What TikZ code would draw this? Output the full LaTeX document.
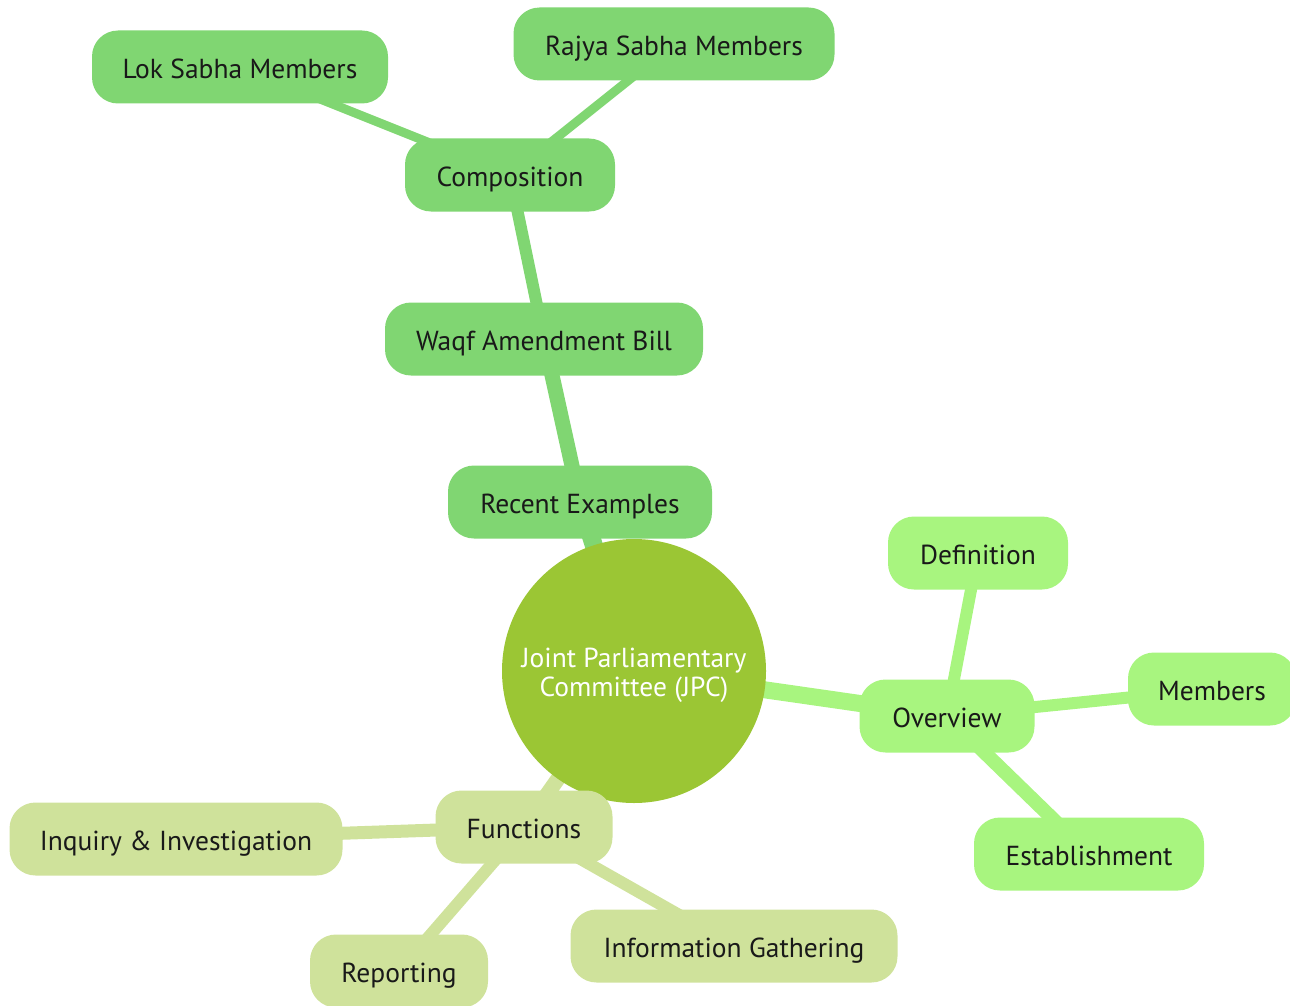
\documentclass[tikz,border=0pt]{standalone}
\usepackage{fontspec}
\setmainfont{PT Sans}
\definecolor{cRoot}{HTML}{9BC634}
\definecolor{cTop}{HTML}{80D672}
\definecolor{cRight}{HTML}{A8F57F}
\definecolor{cLeft}{HTML}{CFE29B}
\tikzset{
  box/.style={rounded corners=26pt, minimum height=73pt, inner sep=0pt, text height=23pt, text depth=0pt, font=\fontsize{27.5}{30}\selectfont, text=black!90},
  topbox/.style={box, fill=cTop},
  rightbox/.style={box, fill=cRight},
  leftbox/.style={box, fill=cLeft},
  link/.style={line cap=round},
}
\begin{document}
\begin{tikzpicture}[x=1pt,y=-1pt]
\useasboundingbox (0,0) rectangle (1290,1006);
% coordinates for nodes
\coordinate (pR) at (634,671);
\coordinate (pRec) at (580,502);
\coordinate (pW) at (544,339);
\coordinate (pC) at (510,175);
\coordinate (pL) at (240,67);
\coordinate (pRS) at (674,44);
\coordinate (pO) at (947,716);
\coordinate (pD) at (978,553);
\coordinate (pM) at (1212,689);
\coordinate (pE) at (1089,854);
\coordinate (pF) at (524,827);
\coordinate (pI) at (176,839);
\coordinate (pRep) at (399,971);
\coordinate (pIG) at (734,946);
% connectors
\draw[link, cTop, line width=18pt] (pR) -- (pRec);
\draw[link, cTop, line width=15pt] (pRec) -- (pW);
\draw[link, cTop, line width=12pt] (pW) -- (pC);
\draw[link, cTop, line width=9pt] (pC) -- (pL);
\draw[link, cTop, line width=9pt] (pC) -- (pRS);
\draw[link, cRight, line width=17pt] (pR) -- (pO);
\draw[link, cRight, line width=12pt] (pO) -- (pD);
\draw[link, cRight, line width=12pt] (pO) -- (pM);
\draw[link, cRight, line width=14pt] (pO) -- (pE);
\draw[link, cLeft, line width=15pt] (pR) -- (pF);
\draw[link, cLeft, line width=13pt] (pF) -- (pI);
\draw[link, cLeft, line width=12pt] (pF) -- (pRep);
\draw[link, cLeft, line width=12pt] (pF) -- (pIG);
% nodes
\node[circle, fill=cRoot, minimum size=264pt, inner sep=0pt,
  label={[yshift=-4pt, text=white, align=center, font=\fontsize{27.5}{29}\selectfont]center:{Joint Parliamentary\\Committee (JPC)}}] (root) at (pR) {};
\node[topbox, minimum width=264pt] (rec) at (pRec) {Recent Examples};
\node[topbox, minimum width=318pt] (waqf) at (pW) {Waqf Amendment Bill};
\node[topbox, minimum width=210pt] (comp) at (pC) {Composition};
\node[topbox, minimum width=296pt] (lok) at (pL) {Lok Sabha Members};
\node[topbox, minimum width=321pt] (rajya) at (pRS) {Rajya Sabha Members};
\node[rightbox, minimum width=175pt] (over) at (pO) {Overview};
\node[rightbox, minimum width=180pt] (def) at (pD) {Definition};
\node[rightbox, minimum width=168pt] (mem) at (pM) {Members};
\node[rightbox, minimum width=230pt] (est) at (pE) {Establishment};
\node[leftbox, minimum width=177pt] (func) at (pF) {Functions};
\node[leftbox, minimum width=333pt] (inq) at (pI) {Inquiry \& Investigation};
\node[leftbox, minimum width=178pt] (rep) at (pRep) {Reporting};
\node[leftbox, minimum width=327pt] (info) at (pIG) {Information Gathering};
\end{tikzpicture}
\end{document}
